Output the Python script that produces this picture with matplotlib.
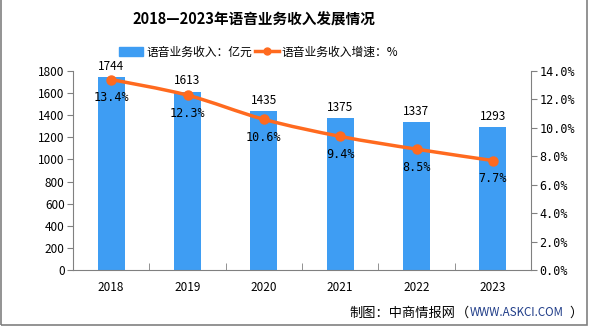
import numpy as np
import matplotlib.pyplot as plt
from matplotlib.path import Path
from matplotlib.patches import PathPatch, Rectangle
from matplotlib.lines import Line2D

plt.rcParams['font.family'] = ['Noto Sans CJK SC', 'DejaVu Sans']

years = ['2018', '2019', '2020', '2021', '2022', '2023']
revenue = [1744, 1613, 1435, 1375, 1337, 1293]      # 亿元
growth = [13.4, 12.3, 10.6, 9.4, 8.5, 7.7]          # %

bar_color = '#3E9DF3'
line_color = '#FF6A1F'
axis_color = '#808080'

fig = plt.figure(figsize=(5.92, 3.27), dpi=100)
ax = fig.add_axes([73 / 592, 1 - 270 / 327, 458 / 592, 199 / 327])
ax2 = ax.twinx()

x = np.arange(len(years))
ax.bar(x, revenue, width=0.355, color=bar_color, zorder=2)
for xi, v in zip(x, revenue):
    ax.text(xi, v + 40, str(v), ha='center', va='bottom', fontsize=8.5)

ax.set_xlim(-0.5, len(years) - 0.5)
ax.set_ylim(0, 1800)
ax.set_yticks(range(0, 1801, 200))
ax.set_xticks(x)
ax.set_xticklabels(years)
ax.set_xticks(np.arange(-0.5, len(years)), minor=True)
ax.tick_params(axis='x', which='major', length=0, pad=8, labelsize=8.5)
ax.tick_params(axis='x', which='minor', length=5, color=axis_color, direction='in')
ax.tick_params(axis='y', length=4, color=axis_color, labelsize=8.5, pad=2)

# smooth curve through the growth points (Catmull-Rom as bezier segments)
pts = np.column_stack([x, growth]).astype(float)
verts = [tuple(pts[0])]
codes = [Path.MOVETO]
for i in range(len(pts) - 1):
    p0 = pts[max(i - 1, 0)]
    p1 = pts[i]
    p2 = pts[i + 1]
    p3 = pts[min(i + 2, len(pts) - 1)]
    c1 = p1 + (p2 - p0) / 6
    c2 = p2 - (p3 - p1) / 6
    verts += [tuple(c1), tuple(c2), tuple(p2)]
    codes += [Path.CURVE4] * 3
ax2.add_patch(PathPatch(Path(verts, codes), fill=False, edgecolor=line_color,
                        lw=2.5, zorder=3, capstyle='round'))
ax2.plot(x, growth, ls='none', marker='o', ms=6.5, color=line_color, zorder=4)
for xi, g in zip(x, growth):
    ax2.text(xi, g - 0.8, f'{g:.1f}%', ha='center', va='top', fontsize=8.5,
             family='DejaVu Sans Mono')

ax2.set_ylim(0, 14)
ax2.set_yticks(np.arange(0, 14.1, 2))
ax2.set_yticklabels([f'{t:.1f}%' for t in np.arange(0, 14.1, 2)],
                    family='DejaVu Sans Mono')
ax2.tick_params(axis='y', length=4, color=axis_color, labelsize=8.5, pad=2)

for a in (ax, ax2):
    a.spines['top'].set_visible(False)
    for s in ('left', 'right', 'bottom'):
        a.spines[s].set_color(axis_color)
ax.spines['right'].set_visible(False)
ax2.spines['left'].set_visible(False)
ax2.spines['bottom'].set_visible(False)

fig.text(254 / 592, 1 - 20 / 327, '2018—2023年语音业务收入发展情况', ha='center', va='center',
         fontsize=10.5, fontweight='bold')

handles = [Rectangle((0, 0), 1, 1, color=bar_color),
           Line2D([0], [0], color=line_color, lw=2.5, marker='o', ms=5)]
fig.legend(handles, ['语音业务收入：亿元', '语音业务收入增速：%'], loc='center',
           bbox_to_anchor=(259 / 592, 1 - 52 / 327), ncol=2, frameon=False, fontsize=8.5,
           handlelength=2.0, handletextpad=0.25, columnspacing=0.3)

ty = 1 - 313 / 327
fig.text(349 / 592, ty, '制图：中商情报网', ha='left', va='center', fontsize=9.5)
fig.text(469 / 592, ty, '（', ha='right', va='center', fontsize=9.5)
fig.text(470 / 592, ty, 'WWW.ASKCI.COM', ha='left', va='center',
         fontsize=8.3, color='#1F3C88')
fig.text(569 / 592, ty, '）', ha='left', va='center', fontsize=9.5)

fig.add_artist(Rectangle((1 / 592, 2 / 327), 586 / 592, 330 / 327, transform=fig.transFigure,
                         fill=False, edgecolor=axis_color, lw=1.2))

fig.savefig('out.png', dpi=100)
